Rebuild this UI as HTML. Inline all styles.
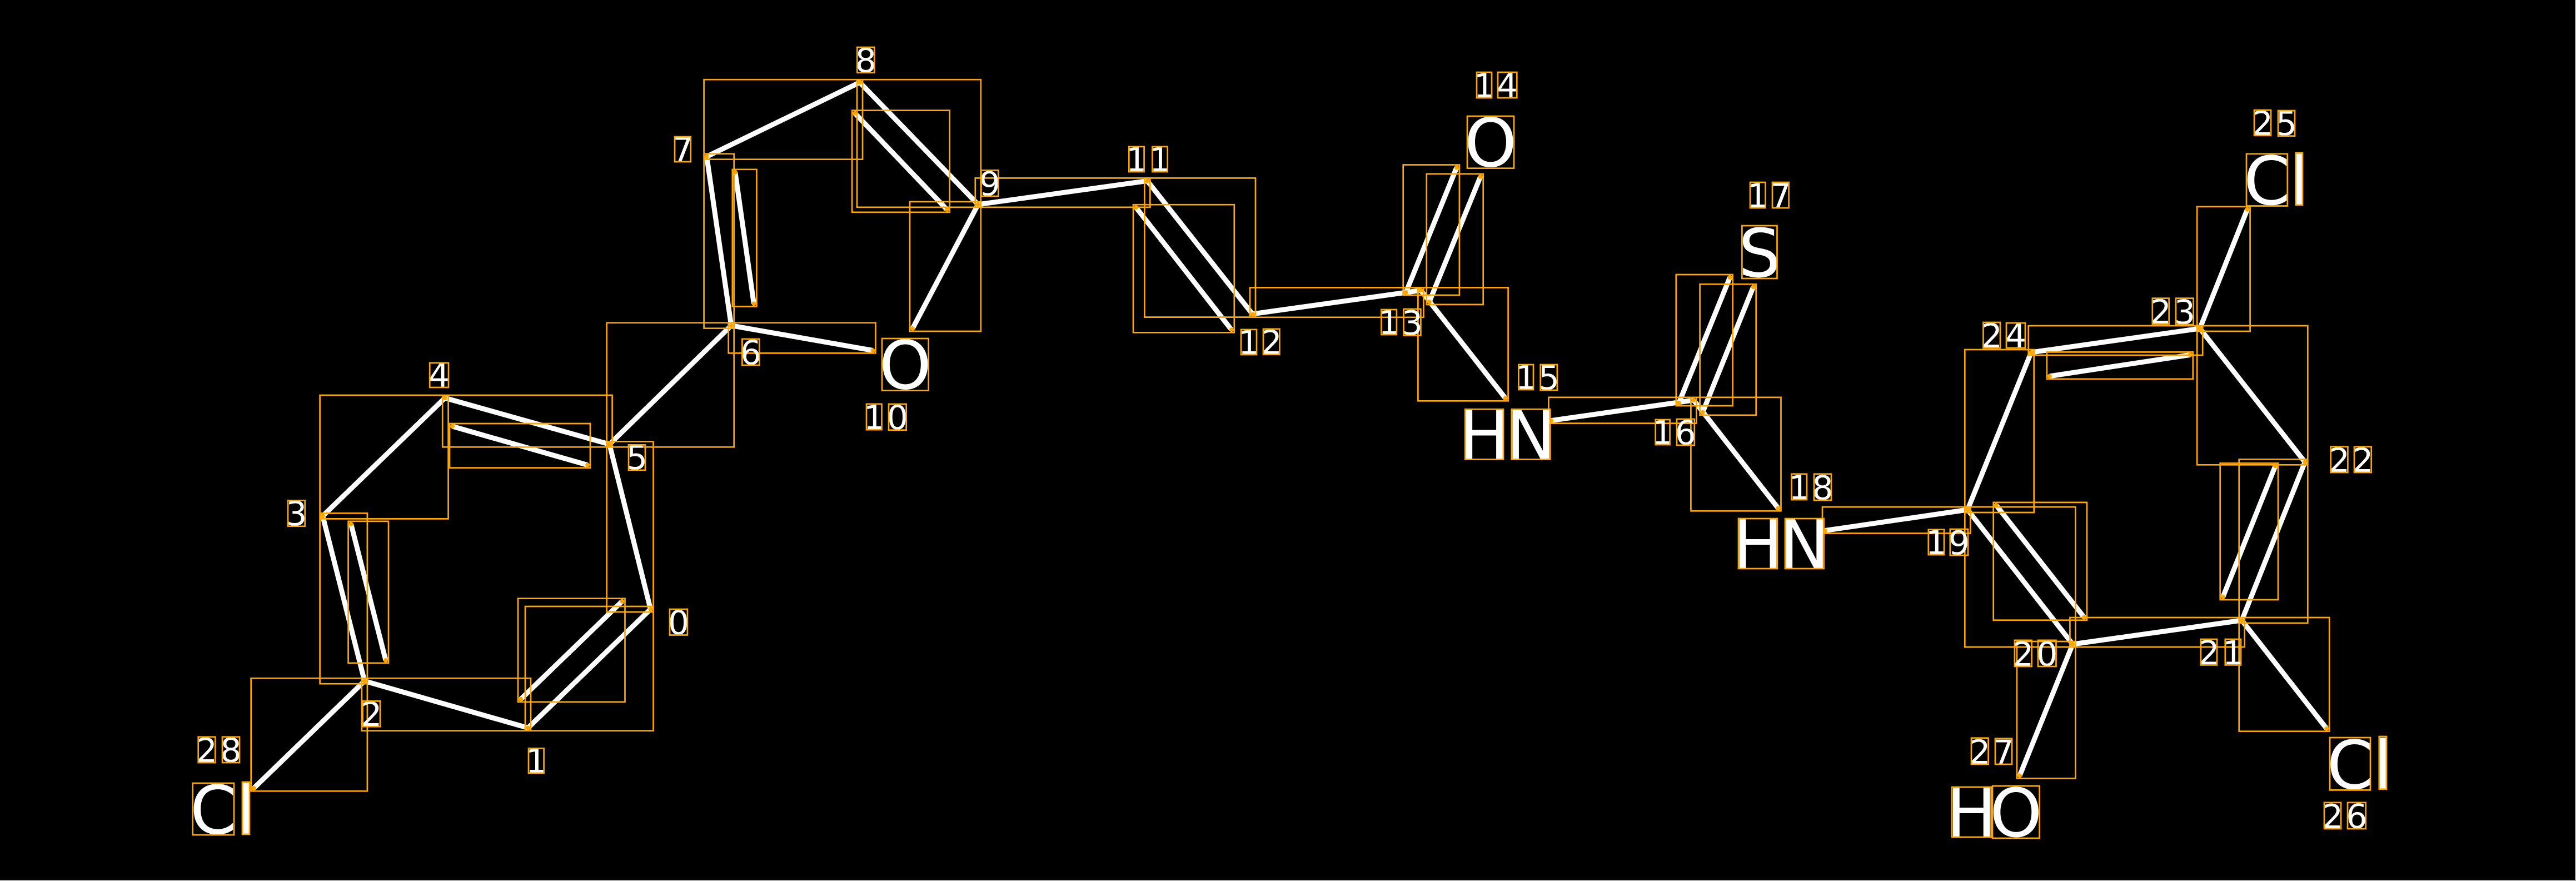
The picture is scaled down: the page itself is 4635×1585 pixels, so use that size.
<!DOCTYPE html>
<html><head><meta charset="utf-8"><style>
html,body{margin:0;padding:0;background:#000;width:4635px;height:1585px;overflow:hidden}
svg{display:block}
text{font-family:"DejaVu Sans","Liberation Sans",sans-serif;fill:#fff;text-anchor:middle}
.d{font-size:60px}.a{font-size:120px}
</style></head><body>
<svg width="4635" height="1585" viewBox="0 0 4635 1585" xmlns="http://www.w3.org/2000/svg">
<rect width="4635" height="1585" fill="#000"/>
<path d="M0 1584H4634V0" fill="none" stroke="#aaa" stroke-width="2"/>
<path fill="none" stroke="#fff" stroke-width="9" d="M1170.5 1096L950 1309.6M1119.5 1081.7L937 1257.9M950 1309.6L655.9 1225.2M655.9 1225.2L580.6 928.4M631.6 942.8L694 1187.9M580.6 928.4L800.6 716M800.6 716L1096.6 799.3M814 767L1057 836.6M1096.6 799.3L1170.5 1096M1096.6 799.3L1315.7 585.7M1315.7 585.7L1271.6 281.7M1322.8 309.8L1356.4 546.4M1271.6 281.7L1547 148.2M1547 148.2L1759.8 367.9M1538.1 203.6L1703.7 376.8M1759.8 367.9L1642 591M1315.7 585.7L1570.4 630.4M1759.8 367.9L2064.3 325.4M2064.3 325.4L2254 565.6M2044 373.2L2215.8 593.3M2254 564.8L2556.4 522.4M2529.7 526L2620.9 301.5M2571.8 542.9L2663.7 317.9M2556.4 522.4L2708.6 716.3M2791.4 756.6L3047.4 719.9M3020.8 725L3112.6 499M3063.6 741.8L3154.7 516.3M3047.4 719.9L3199.5 914.3M3284 954.5L3540.3 917M3540.3 917L3729.4 1159M3591.7 908.9L3750 1110.7M3729.4 1159L4033.7 1116M4033.7 1116L4147.3 831.3M3999.7 1074L4094 838.4M4147.3 831.3L3958.2 591M3958.2 591L3654.7 634M3940.8 638.4L3687.9 676.8M3654.7 634L3540.3 917M3958.2 591L4043.6 376.8M4033.7 1116L4186.2 1310.7M3729.4 1159L3634 1395.5M655.9 1225.2L456.7 1418"/>
<path fill="none" stroke="#ffa500" stroke-width="2.7" d="M945 1091H1175.5V1314.6H945ZM932 1076.7H1124.5V1262.9H932ZM650.9 1220.2H955V1314.6H650.9ZM575.6 923.4H660.9V1230.2H575.6ZM626.6 937.8H699V1192.9H626.6ZM575.6 711H806.6V933.4H575.6ZM796.2 711H1101.6V804.3H796.2ZM809 762H1062V841.6H809ZM1091.6 794.3H1175.5V1101H1091.6ZM1091.6 580.7H1320.7V804.3H1091.6ZM1266.6 276.7H1320.7V590.7H1266.6ZM1317.8 304.8H1361.4V551.4H1317.8ZM1266.6 143.2H1552V286.7H1266.6ZM1542 143.2H1764.8V372.9H1542ZM1533.1 198.6H1708.7V381.8H1533.1ZM1637 362.9H1764.8V596H1637ZM1310.7 580.7H1575.4V635.4H1310.7ZM1754.8 320.4H2069.3V372.9H1754.8ZM2059.3 320.4H2259V570.6H2059.3ZM2039 368.2H2220.8V598.3H2039ZM2249 517.4H2561.4V570.8H2249ZM2524.7 296.5H2625.9V531H2524.7ZM2566.8 312.9H2668.7V547.9H2566.8ZM2551.4 517.4H2713.6V721.3H2551.4ZM2786.4 714.9H3052.4V761.6H2786.4ZM3015.8 494H3117.6V730H3015.8ZM3058.6 511.3H3159.7V746.8H3058.6ZM3042.4 714.9H3204.5V919.3H3042.4ZM3279 912H3545.3V959.5H3279ZM3535.3 912H3734.4V1164H3535.3ZM3586.7 903.9H3755V1115.7H3586.7ZM3724.4 1111H4038.7V1164H3724.4ZM4028.7 826.3H4152.3V1121H4028.7ZM3994.7 833.4H4099V1079H3994.7ZM3953.2 586H4152.3V836.3H3953.2ZM3649.7 586H3963.2V639H3649.7ZM3682.9 633.4H3945.8V681.8H3682.9ZM3535.3 629H3659.7V922H3535.3ZM3953.2 371.8H4048.6V596H3953.2ZM4028.7 1111H4191.2V1315.7H4028.7ZM3629 1154H3734.4V1400.5H3629ZM451.7 1220.2H660.9V1423.3H451.7Z"/>
<path fill="none" stroke="#ffa500" stroke-width="8" stroke-linecap="round" d="M1170.5 1096h0M950 1309.6h0M1119.5 1081.7h0M937 1257.9h0M655.9 1225.2h0M580.6 928.4h0M631.6 942.8h0M694 1187.9h0M800.6 716h0M1096.6 799.3h0M814 767h0M1057 836.6h0M1315.7 585.7h0M1271.6 281.7h0M1322.8 309.8h0M1356.4 546.4h0M1547 148.2h0M1759.8 367.9h0M1538.1 203.6h0M1703.7 376.8h0M1642 591h0M1570.4 630.4h0M2064.3 325.4h0M2254 565.6h0M2044 373.2h0M2215.8 593.3h0M2556.4 522.4h0M2529.7 526h0M2620.9 301.5h0M2571.8 542.9h0M2663.7 317.9h0M2708.6 716.3h0M2791.4 756.6h0M3047.4 719.9h0M3020.8 725h0M3112.6 499h0M3063.6 741.8h0M3154.7 516.3h0M3199.5 914.3h0M3284 954.5h0M3540.3 917h0M3729.4 1159h0M3591.7 908.9h0M3750 1110.7h0M4033.7 1116h0M4147.3 831.3h0M3999.7 1074h0M4094 838.4h0M3958.2 591h0M3654.7 634h0M3940.8 638.4h0M3687.9 676.8h0M4043.6 376.8h0M4186.2 1310.7h0M3634 1395.5h0M456.7 1418h0"/>
<g class="d">
<text x="1221" y="1141">0</text>
<text x="965" y="1390">1</text>
<text x="668.3" y="1306">2</text>
<text x="533.3" y="945">3</text>
<text x="790" y="696">4</text>
<text x="1146" y="844">5</text>
<text x="1350.8" y="655.5">6</text>
<text x="1228.4" y="290">7</text>
<text x="1557.8" y="129.5">8</text>
<text x="1780.8" y="351.5">9</text>
<text x="1572.8" y="772">1</text><text x="1614.8" y="772">0</text>
<text x="2045" y="308">1</text><text x="2087" y="308">1</text>
<text x="2247" y="637">1</text><text x="2287.7" y="636.8">2</text>
<text x="2499.2" y="601">1</text><text x="2541" y="602">3</text>
<text x="2670.5" y="175">1</text><text x="2712" y="175">4</text>
<text x="2745.7" y="700">1</text><text x="2786.8" y="700.5">5</text>
<text x="2991.6" y="799">1</text><text x="3032.9" y="799.5">6</text>
<text x="3162.7" y="373">1</text><text x="3203.8" y="373">7</text>
<text x="3237.2" y="898">1</text><text x="3279.5" y="898.5">8</text>
<text x="3483.9" y="997">1</text><text x="3524.9" y="997.5">9</text>
<text x="3640.2" y="1198">2</text><text x="3683.2" y="1197.5">0</text>
<text x="3974.5" y="1195.4">2</text><text x="4017.9" y="1195.4">1</text>
<text x="4209" y="849">2</text><text x="4251.3" y="849">2</text>
<text x="3887.8" y="582">2</text><text x="3930.8" y="582.5">3</text>
<text x="3583.8" y="625">2</text><text x="3627" y="625">4</text>
<text x="4071" y="242.8">2</text><text x="4114" y="243">5</text>
<text x="4197" y="1490">2</text><text x="4240.3" y="1489.5">6</text>
<text x="3562.3" y="1374">2</text><text x="3605" y="1374">7</text>
<text x="371.9" y="1371">2</text><text x="415.5" y="1370.5">8</text>
</g>
<g class="a">
<text x="1628.8" y="699.5">O</text>
<text x="2682" y="299.5">O</text>
<text x="2670.6" y="825.5">H</text><text x="2754.5" y="825.5">N</text>
<text x="3166" y="498">S</text>
<text x="3163" y="1022">H</text><text x="3246.8" y="1022">N</text>
<text x="4078.9" y="368">C</text><text x="4136.8" y="368">l</text>
<text x="4228.5" y="1419">C</text><text x="4287.4" y="1418.7">l</text>
<text x="3547.3" y="1505">H</text><text x="3627.3" y="1505">O</text>
<text x="383.8" y="1500">C</text><text x="442.5" y="1500">l</text>
</g>
<path fill="none" stroke="#ffa500" stroke-width="2.7" d="M1205 1096H1236.9V1142.5H1205ZM951 1346.3H978.6V1391H951ZM652.7 1261.4H684V1307.3H652.7ZM518 900.3H548.7V946.8H518ZM773.2 652.9H807V697H773.2ZM1131 800.4H1161V845.8H1131ZM1335.4 609.8H1366.3V657H1335.4ZM1214 246H1242.8V291H1214ZM1542.3 85H1573.2V130.8H1542.3ZM1765.4 306.3H1796.3V353H1765.4ZM1559 726.8H1586.5V773.2H1559ZM1599 727H1630.7V773.7H1599ZM2031.3 263.8H2058.6V309H2031.3ZM2073.4 263.8H2100.7V309H2073.4ZM2233 592.9H2261V638H2233ZM2273 591.8H2302.4V637.8H2273ZM2485.5 557H2512.9V602H2485.5ZM2525.5 556H2556.4V603.6H2525.5ZM2657 130H2684V176H2657ZM2695 130H2729.3V176H2695ZM2732.4 656H2759V701H2732.4ZM2771.7 656H2801.9V702H2771.7ZM2978.7 755H3004.6V800H2978.7ZM3017 754H3048.8V801H3017ZM3149 328H3176.5V374H3149ZM3189 328H3218.6V374H3189ZM3223.5 852.7H3251V899H3223.5ZM3264 852.7H3295V900H3264ZM3469.8 952.7H3498V998H3469.8ZM3508.8 952H3541V999H3508.8ZM3624.9 1151.8H3655.6V1199H3624.9ZM3667 1151.8H3699.5V1199H3667ZM3959.9 1150H3989V1196.4H3959.9ZM4003.8 1150H4032V1196.4H4003.8ZM4193.7 803.6H4224.4V850H4193.7ZM4236 803.6H4266.7V850H4236ZM3872.8 536.6H3902.7V583H3872.8ZM3915 536.6H3946.6V584H3915ZM3568.5 580H3599V626H3568.5ZM3610 581H3644V626H3610ZM4056 198H4086V243.8H4056ZM4099 199H4129V244.6H4099ZM4182 1443.8H4212V1491H4182ZM4224 1443.8H4256.7V1491H4224ZM3547 1327.7H3577.6V1375H3547ZM3590 1328.6H3620V1375H3590ZM356.7 1325.7H387.3V1372H356.7ZM400 1325.7H431V1372H400ZM1587 609H1670.7V702.7H1587ZM2640 209H2724V302.7H2640ZM2636.3 736.2H2705V826.5H2636.3ZM2719.8 736.2H2789.3V826.5H2719.8ZM3134.4 406H3197.5V501H3134.4ZM3128 933H3197.8V1023H3128ZM3212 933H3281.6V1023H3212ZM4042 276.8H4115.8V370.5H4042ZM4130.7 275H4143V368.8H4130.7ZM4192 1327H4265V1421.4H4192ZM4280.8 1325H4294V1419.7H4280.8ZM3512 1416H3582.6V1506H3512ZM3585 1414H3669.6V1508H3585ZM346.7 1409H421V1502H346.7ZM436 1407H449V1501H436Z"/>
</svg>
</body></html>
